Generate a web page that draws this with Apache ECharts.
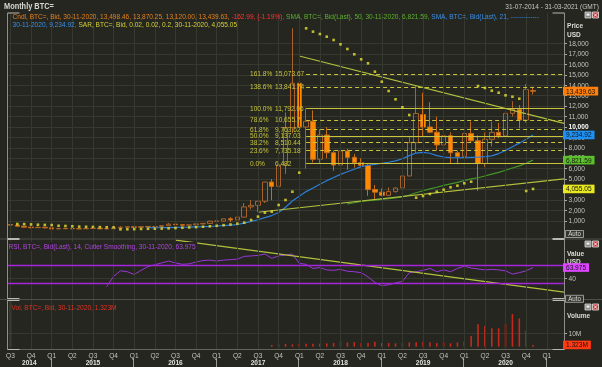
<!DOCTYPE html>
<html>
<head>
<meta charset="utf-8">
<title>Monthly BTC=</title>
<script src="https://cdn.jsdelivr.net/npm/echarts@6.0.0/dist/echarts.min.js"></script>
<style>
html,body{margin:0;padding:0;background:#24261f;overflow:hidden}
#chart{width:602px;height:367px}
</style>
</head>
<body>
<div id="chart"></div>
<script>
// ---------------- DATA ----------------
const months = [
  'Jul 2014','Aug 2014','Sep 2014','Oct 2014','Nov 2014','Dec 2014',
  'Jan 2015','Feb 2015','Mar 2015','Apr 2015','May 2015','Jun 2015','Jul 2015','Aug 2015','Sep 2015','Oct 2015','Nov 2015','Dec 2015',
  'Jan 2016','Feb 2016','Mar 2016','Apr 2016','May 2016','Jun 2016','Jul 2016','Aug 2016','Sep 2016','Oct 2016','Nov 2016','Dec 2016',
  'Jan 2017','Feb 2017','Mar 2017','Apr 2017','May 2017','Jun 2017','Jul 2017','Aug 2017','Sep 2017','Oct 2017','Nov 2017','Dec 2017',
  'Jan 2018','Feb 2018','Mar 2018','Apr 2018','May 2018','Jun 2018','Jul 2018','Aug 2018','Sep 2018','Oct 2018','Nov 2018','Dec 2018',
  'Jan 2019','Feb 2019','Mar 2019','Apr 2019','May 2019','Jun 2019','Jul 2019','Aug 2019','Sep 2019','Oct 2019','Nov 2019','Dec 2019',
  'Jan 2020','Feb 2020','Mar 2020','Apr 2020','May 2020','Jun 2020','Jul 2020','Aug 2020','Sep 2020','Oct 2020','Nov 2020','Dec 2020',
  'Jan 2021','Feb 2021','Mar 2021'
];
const quarterNames = {Jan:'Q1', Apr:'Q2', Jul:'Q3', Oct:'Q4'};
const yearLabels = ['2014','2015','2016','2017','2018','2019','2020'];
const priceTicks = [1000,2000,3000,4000,5000,6000,7000,8000,9000,10000,11000,12000,13000,14000,15000,16000,17000,18000];
const rsiTicks = [40];
const volTicks = [10];

const open = [635,585,480,390,340,375,
  320,218,255,245,237,230,264,285,230,236,314,378,
  430,368,437,416,448,531,673,624,575,608,700,745,
  965,970,1190,1080,1350,2330,2480,2870,4720,4300,6350,9950,
  14200,10000,10550,6900,9230,7530,6350,7700,7090,6570,6320,4000,
  3750,3440,3800,4150,5300,8500,11200,10000,9500,8280,9160,7530,
  7180,9380,8680,6500,8820,9480,9160,11310,11690,10670,13498.46];
const high = [660,600,500,420,460,390,
  320,265,300,262,248,268,320,285,245,335,500,468,
  460,445,440,465,550,780,705,625,630,720,760,990,
  1150,1200,1350,1400,2700,2990,2900,4740,5000,6470,11400,19470,
  16600,11792,11600,9800,10000,7750,8500,7900,7400,7000,6500,4430,
  4100,4200,4100,5600,9100,13960,13290,12370,10990,10500,9500,7750,
  9600,10510,9200,9480,10510,10400,11450,12470,12100,14130,13870.25];
const low = [565,440,380,275,315,300,
  160,210,240,215,225,220,255,200,225,236,300,350,
  350,365,400,415,440,520,600,470,575,605,680,745,
  750,940,890,1060,1350,2100,1830,2700,2970,4100,5500,9400,
  9000,6000,6600,6500,7000,5800,6100,5900,6100,6200,3400,3100,
  3350,3400,3700,4100,5300,7500,9070,9400,7730,7300,6450,6430,
  6900,8450,3870,6150,8120,8920,8980,11000,9880,10400,13120.00];
const close = [585,480,390,340,375,320,
  218,255,245,237,230,264,285,230,236,314,378,430,
  368,437,416,448,531,673,624,575,608,700,745,965,
  970,1190,1080,1350,2330,2480,2870,4720,4300,6350,9950,14200,
  10000,10550,6900,9230,7530,6350,7700,7090,6570,6320,3990,3750,
  3440,3800,4150,5300,8500,11300,10000,9500,8280,9160,7530,7180,
  9380,8680,6500,8820,9480,9160,11310,11690,10670,13602.62,13439.63];

const sma21Start = 'Mar 2016';
const sma21 = [335,330,335,350,365,380,395,415,435,465,
  500,540,580,640,780,950,1100,1300,1500,1800,2300,2900,
  3350,3800,4150,4500,4850,5150,5450,5700,5950,6200,6330,6420,
  6520,6620,6750,6950,7250,7500,7560,7480,7250,7120,7060,7050,
  7070,7090,7110,7150,7230,7450,7750,8110,8450,8820,9234.92];

const sma50Start = 'Aug 2018';
const sma50 = [2620,2730,2850,2920,2990,
  3050,3120,3200,3300,3470,3690,3880,4060,4220,4400,4540,4680,
  4860,5020,5130,5300,5470,5640,5850,6070,6270,6530,6821.59];

const sar = [null,690,680,650,620,600,
  590,520,500,470,440,425,410,395,380,370,180,190,
  200,215,230,240,250,275,300,330,360,390,430,470,
  520,580,640,720,820,1075,1395,1775,1875,2514,2994,3790,
  5614,19470,19150,18925,18666,18350,17937,17486,16977,16497,16113,15307,
  14347,13455,12658,11890,11152,3215,3378,3570,3791,3983,4213,4367,
  4597,4750,13935,13743,13484,13292,13042,12908,12716,3858,4055.05];

const rsiStart = 'Sep 2015';
const rsi = [23,45,57,55,
  49,58,66,70,74,78,74,71,72,76,79,80,
  78,80,81,82,88,89,90,93,84,89,91,93,
  73,71,62,64,59,58,60,56,55,53,44,32,
  25,27,31,34,53,55,58,62,55,59,55,62,
  67,63,61,59,60,59,57,50,53,57,63.975];
const rsiLevels = [70, 30];

const volumeM = [40,0,0,0,0,0,
  0,0,0,0,0,0,0,0,0,0,0,0,
  0,0,0,0,0,0,0,0,0,0,0,0,
  0,0,0,0,0,0,0,0,1.24,1.74,2.0,1.74,
  2.24,2.24,2.24,2.24,2.49,2.74,3.73,3.23,3.48,2.49,2.74,3.73,
  2.74,2.74,2.49,2.74,3.23,3.23,3.73,3.23,2.74,3.23,2.49,3.23,
  3.73,7.96,16.67,15.4,13.7,13.7,16.9,24.4,21.1,11.7,1.323];

// Fibonacci retracement levels
const fibStart = 'Feb 2018';
const fibPct = ['161.8%','138.6%','100.0%','78.6%','61.8%','50.0%','38.2%','23.6%','0.0%'];
const fibVal = [15073.67,13841.74,11792.06,10655.7,9763.62,9137.03,8510.44,7735.18,6482];

// trend lines: [month index counted from Jul 2014, value]
const downTrend = [[42, 16810], [80.5, 10345]];
const upTrend = [[36, 1820], [80.5, 5030]];
const rsiTrend = [[24, 123], [80.5, 11.1]];

// ---------------- STYLE / HELPERS ----------------
const FONT = "'Liberation Sans',Arial,sans-serif";
const SX = 0.82;  // narrow text look
const BG = '#24261f', GRIDC = '#363930', TXT = '#c4c4c0', FIBC = '#c9c43c', TRENDC = '#b3c03e';
const GL = 7, GW = 557, XMIN = -0.5, XMAX = months.length - 0.5;
const last = a => a[a.length - 1];
const fmt2 = v => v.toLocaleString('en-US', {minimumFractionDigits:2, maximumFractionDigits:2});
const fmtN = v => v.toLocaleString('en-US', {maximumFractionDigits:2});
const align = (arr, start) => { const i0 = months.indexOf(start); return months.map((m, i) => (i >= i0 && i - i0 < arr.length) ? arr[i - i0] : null); };
const quarterIdx = months.map((m, i) => quarterNames[m.slice(0,3)] ? i : -1).filter(i => i >= 0);
const n = close.length;
const chg = close[n-1] - close[n-2];
const chgPct = Math.trunc(chg / close[n-2] * 10000) / 100;

const hiddenCat = gi => ({type:'category', gridIndex: gi, data: months, boundaryGap: true, show: false});
const hiddenVal = (gi, min, max) => ({type:'value', gridIndex: gi, min, max, show: false, splitLine:{show:false}});
const tickAxis = (gi, min, max, interval, vals) => ({type:'value', gridIndex: gi, position:'right', min, max, interval,
  axisLine:{show:false},
  axisTick:{show:true, length: 3, customValues: vals, lineStyle:{color:'#a8a8a4'}},
  axisLabel:{show:false},
  splitLine:{show:true, lineStyle:{color: GRIDC, width: 1}}});

const option = {
  backgroundColor: BG,
  animation: false,
  textStyle: {fontFamily: FONT},
  grid: [
    {left: GL, width: GW, top: 22.8, height: 208.4},
    {left: GL, width: GW, top: 239.2, height: 58.1},
    {left: GL, width: GW, top: 299.8, height: 46.9},
    {left: GL, width: GW, top: 22.8, height: 208.4},
    {left: GL, width: GW, top: 239.2, height: 58.1},
    {left: GL, width: GW, top: 13, height: 336.5}
  ],
  xAxis: [
    hiddenCat(0), hiddenCat(1), hiddenCat(2),
    {type:'value', gridIndex: 3, min: XMIN, max: XMAX, show: false, splitLine:{show:false}},
    {type:'value', gridIndex: 4, min: XMIN, max: XMAX, show: false, splitLine:{show:false}},
    {type:'value', gridIndex: 5, min: XMIN, max: XMAX, show: false, splitLine:{show:false}}
  ],
  yAxis: [
    tickAxis(0, 0, 20000, 1000, priceTicks),
    tickAxis(1, 0, 125, 40, rsiTicks),
    tickAxis(2, 0, 35, 10, volTicks),
    hiddenVal(3, 0, 20000),
    hiddenVal(4, 0, 125),
    hiddenVal(5, 0, 1)
  ],
  series: [
    // vertical quarter grid lines
    {type:'line', xAxisIndex: 5, yAxisIndex: 5, data: [], z: 1, silent: true,
     markLine: {symbol:['none','none'], silent: true, label:{show:false},
       lineStyle:{color: GRIDC, width: 1, type:'solid'},
       data: quarterIdx.map(i => ({xAxis: i}))}},
    // Fibonacci levels
    {type:'line', xAxisIndex: 3, yAxisIndex: 3, data: [], z: 2, silent: true,
     markLine: {symbol:['none','none'], silent: true, label:{show:false},
       lineStyle:{color: FIBC, width: 1},
       data: fibVal.map((v, k) => {
         const solid = ['100.0%','50.0%','0.0%'].includes(fibPct[k]);
         const ls = {color: FIBC, width: 1, type: solid ? 'solid' : [4, 3]};
         return [{coord: [months.indexOf(fibStart), v], lineStyle: ls}, {coord: [XMAX, v], lineStyle: ls}];
       })}},
    // candles
    {type:'candlestick', xAxisIndex: 0, yAxisIndex: 0, z: 3, silent: true,
     data: open.map((o, i) => [o, close[i], low[i], high[i]]),
     barWidth: 5,
     itemStyle: {color: 'rgba(0,0,0,0)', color0: '#ff8a00', borderColor: '#a8622a', borderColor0: '#c46c1c', borderWidth: 1}},
    // SMA 21
    {type:'line', xAxisIndex: 0, yAxisIndex: 0, z: 4, silent: true, data: align(sma21, sma21Start),
     showSymbol: false, symbol: 'none', lineStyle:{color:'#2d7ed8', width: 1.2}},
    // SMA 50
    {type:'line', xAxisIndex: 0, yAxisIndex: 0, z: 4, silent: true, data: align(sma50, sma50Start),
     showSymbol: false, symbol: 'none', lineStyle:{color:'#45952a', width: 1.2}},
    // trend lines
    {type:'line', xAxisIndex: 3, yAxisIndex: 3, z: 4, silent: true, data: downTrend,
     showSymbol: false, symbol: 'none', lineStyle:{color: TRENDC, width: 1.2}},
    {type:'line', xAxisIndex: 3, yAxisIndex: 3, z: 4, silent: true, data: upTrend,
     showSymbol: false, symbol: 'none', lineStyle:{color: TRENDC, width: 1.2}},
    // SAR
    {type:'scatter', xAxisIndex: 0, yAxisIndex: 0, z: 5, silent: true,
     data: sar.map((v, i) => v == null ? null : [months[i], v]).filter(d => d),
     symbol: 'rect', symbolSize: 2.6, itemStyle:{color:'#e8e232'}},
    // RSI
    {type:'line', xAxisIndex: 1, yAxisIndex: 1, z: 4, silent: true, data: align(rsi, rsiStart),
     showSymbol: false, symbol: 'none', lineStyle:{color:'#9a36d8', width: 1},
     markLine: {symbol:['none','none'], silent: true, label:{show:false},
       lineStyle:{color:'#a524dc', width: 1.3, type:'solid'},
       data: rsiLevels.map(v => ({yAxis: v}))}},
    {type:'line', xAxisIndex: 4, yAxisIndex: 4, z: 4, silent: true, data: rsiTrend,
     showSymbol: false, symbol: 'none', lineStyle:{color: TRENDC, width: 1.2}},
    // Volume
    {type:'bar', xAxisIndex: 2, yAxisIndex: 2, z: 3, silent: true, data: volumeM,
     barWidth: 1.6, itemStyle:{color:'#c42a1c'}}
  ]
};

const chart = echarts.init(document.getElementById('chart'), null, {renderer: 'canvas'});
chart.setOption(option);

// ---------------- texts & decorations ----------------
const mctx = document.createElement('canvas').getContext('2d');
const fontStr = (size, bold) => (bold ? 'bold ' : '') + size + 'px ' + FONT;
const measure = (t, size, bold) => { mctx.font = fontStr(size, bold); return mctx.measureText(t).width * SX; };

const G = [];
const ln = (x1, y1, x2, y2, c, w, z) => ({type:'line', silent: true, z: z || 50, shape:{x1, y1, x2, y2}, style:{stroke: c, lineWidth: w || 1}});
const tx = (x, y, t, c, o) => { o = o || {}; return {type:'text', silent: true, z: o.z || 52, x, y, scaleX: SX,
  style: {text: t, fill: c, font: fontStr(o.size || 8, o.bold), textAlign: o.align || 'left', textVerticalAlign: 'middle'}}; };
const rc = (x, y, w, h, fill, stroke, z) => ({type:'rect', silent: true, z: z || 50, shape:{x, y, width: w, height: h},
  style:{fill, stroke: stroke || null, lineWidth: 0.8}});
const segs = (x, y, parts, bg) => {
  const total = parts.reduce((s, p) => s + measure(p[0], 8), 0);
  if (bg) G.push(rc(x - 1.5, y - 4.5, total + 3, 9, bg, null, 49));
  parts.forEach(([t, c]) => { G.push(tx(x, y, t, c)); x += measure(t, 8); });
};
const tag = (yAxisIndex, v, t, bg) => {
  const y = chart.convertToPixel({yAxisIndex}, v);
  const w = measure(t, 8) + 6;
  G.push(rc(563, y - 4.3, w, 8.6, bg, null, 60));
  G.push(tx(566, y + 0.3, t, '#121212', {z: 61}));
};

// headings
G.push(tx(4, 6.3, 'Monthly BTC=', '#d8d8d4', {bold: true, size: 9}));
G.push(tx(599, 6.3, '31-07-2014 - 31-03-2021 (GMT)', '#c8c8c4', {align: 'right'}));

// legends
segs(12.5, 16.8, [
  ['Cndl, BTC=, Bid, 30-11-2020, ' + fmt2(last(open)) + ', ' + fmt2(last(high)) + ', ' + fmt2(last(low)) + ', ' + fmt2(last(close)) + ', ', '#e8801e'],
  [chg.toFixed(2) + ', (' + chgPct.toFixed(2) + '%), ', '#ff3434'],
  ['SMA, BTC=, Bid(Last), 50, 30-11-2020, ' + fmt2(last(sma50)) + ', ', '#5cb22e'],
  ['SMA, BTC=, Bid(Last), 21, -------------', '#3a8fe8']
]);
segs(12.5, 25.2, [
  ['30-11-2020, ' + fmt2(last(sma21)) + ', ', '#3a8fe8'],
  ['SAR, BTC=, Bid, 0.02, 0.02, 0.2, 30-11-2020, ' + fmt2(last(sar)), '#d6d23a']
]);
segs(8.5, 246.5, [['RSI, BTC=, Bid(Last), 14, Cutler Smoothing, 30-11-2020, ' + last(rsi).toFixed(3), '#b444e4']], BG);
segs(11.5, 307.3, [['Vol, BTC=, Bid, 30-11-2020, ' + last(volumeM).toFixed(3) + 'M', '#e03222']]);

// frames
const panels = [[13, 238.5], [239.5, 298.5], [300.5, 349.5]];
G.push(ln(7.5, 13, 7.5, 349.5, '#8e8e8a'));
G.push(ln(564.5, 13, 564.5, 349.5, '#8e8e8a'));
G.push(ln(0, 239, 602, 239, '#4e5048'));
G.push(ln(0, 299.5, 602, 299.5, '#4e5048'));
G.push(ln(7.5, 349.5, 564.5, 349.5, '#62645c'));
panels.forEach(p => {
  [p[0], p[1]].forEach(y => {
    G.push(ln(7.5, y, 19.5, y, '#b8b8b4'));
    G.push(ln(552.5, y, 564.5, y, '#b8b8b4'));
  });
});
// window buttons
[12, 241, 304].forEach(y => {
  G.push(rc(585, y, 6, 6, '#8a8a8a', '#dcdcdc'));
  G.push(rc(586.5, y + 1.5, 3, 2.2, '#f0f0f0'));
  G.push(rc(592.5, y, 6, 6, '#c83232', '#e8e8e8'));
  G.push(ln(593.8, y + 1.3, 597.2, y + 4.7, '#ffffff', 0.9));
  G.push(ln(597.2, y + 1.3, 593.8, y + 4.7, '#ffffff', 0.9));
});
// Auto boxes
[230.5, 295.3].forEach(y => {
  G.push(rc(565.5, y, 18, 7, '#33352e', '#b4b4b0'));
  G.push(tx(574.5, y + 3.6, 'Auto', '#dcdcd8', {size: 7.5, align: 'center'}));
});
// axis titles
G.push(tx(567, 26, 'Price', '#dcdcd8', {bold: true}));
G.push(tx(567, 34.7, 'USD', '#dcdcd8', {bold: true}));
G.push(tx(567, 253.3, 'Value', '#dcdcd8', {bold: true}));
G.push(tx(567, 261.7, 'USD', '#dcdcd8', {bold: true}));
G.push(tx(567, 316, 'Volume', '#dcdcd8', {bold: true}));

// y-axis tick labels
priceTicks.forEach(v => {
  const y = chart.convertToPixel({yAxisIndex: 0}, v);
  G.push(tx(568.5, y, v.toLocaleString('en-US'), v === 10000 ? '#ffffff' : TXT, {bold: v === 10000}));
});
rsiTicks.forEach(v => G.push(tx(568.5, chart.convertToPixel({yAxisIndex: 1}, v), String(v), TXT)));
volTicks.forEach(v => G.push(tx(568.5, chart.convertToPixel({yAxisIndex: 2}, v), v + 'M', TXT)));

// last-value tags
tag(0, last(close), fmt2(last(close)), '#ff7f0a');
tag(0, last(sma21), fmt2(last(sma21)), '#1e90f4');
tag(0, last(sma50), fmt2(last(sma50)), '#5cc02c');
tag(0, last(sar), fmt2(last(sar)), '#e8e81e');
tag(1, last(rsi), last(rsi).toFixed(3), '#dc46ff');
tag(2, last(volumeM), last(volumeM).toFixed(3) + 'M', '#ff3a12');

// Fibonacci labels
fibVal.forEach((v, k) => {
  const y = chart.convertToPixel({yAxisIndex: 3}, v);
  G.push(tx(250, y, fibPct[k], FIBC));
  G.push(tx(275, y, fmtN(v), FIBC));
});

// x axis: quarters, years, separators
const xOf = m => chart.convertToPixel({xAxisIndex: 2}, m);
quarterIdx.forEach(i => G.push(tx(xOf(months[i]), 355.3, quarterNames[months[i].slice(0,3)], TXT, {align: 'center'})));
yearLabels.forEach(yr => {
  let x;
  if (months.indexOf('Jan ' + yr) < 0) x = (GL + xOf('Jan ' + (Number(yr) + 1))) / 2;
  else x = xOf('Jul ' + yr);
  G.push(tx(x, 362.7, yr, '#e4e4e0', {bold: true, align: 'center'}));
});
months.forEach(m => {
  if (m.startsWith('Jan')) { const x = Math.round(xOf(m)) - 0.5; G.push(ln(x, 358, x, 367, '#9a9a96')); }
});

chart.setOption({graphic: {elements: G}});
</script>
</body>
</html>
